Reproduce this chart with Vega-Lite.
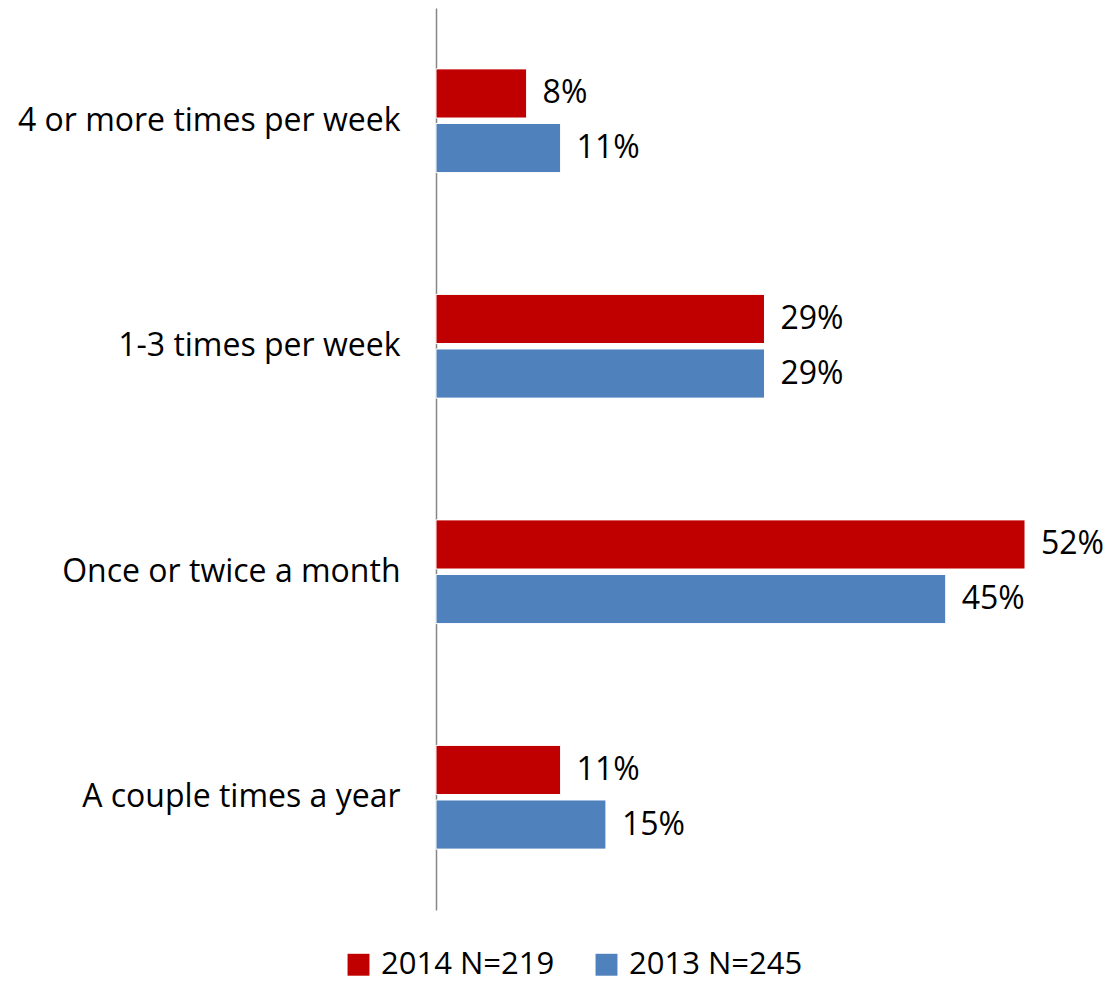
{
  "$schema": "https://vega.github.io/schema/vega-lite/v6.json",
  "autosize": "none",
  "width": 623,
  "height": 902,
  "padding": {"left": 436, "top": 8, "right": 50, "bottom": 76},
  "background": "white",
  "config": {"view": {"stroke": null}, "font": "Open Sans"},
  "data": {"values": [
    {"category": "4 or more times per week", "series": "2014 N=219", "value": 0.08},
    {"category": "4 or more times per week", "series": "2013 N=245", "value": 0.11},
    {"category": "1-3 times per  week", "series": "2014 N=219", "value": 0.29},
    {"category": "1-3 times per  week", "series": "2013 N=245", "value": 0.29},
    {"category": "Once or twice a month", "series": "2014 N=219", "value": 0.52},
    {"category": "Once or twice a month", "series": "2013 N=245", "value": 0.45},
    {"category": "A couple times a year", "series": "2014 N=219", "value": 0.11},
    {"category": "A couple times a year", "series": "2013 N=245", "value": 0.15}
  ]},
  "encoding": {
    "y": {"field": "category", "type": "nominal", "sort": null,
      "scale": {"paddingInner": 0.54, "paddingOuter": 0.27},
      "axis": {"title": null, "ticks": false, "labelFontSize": 32, "labelColor": "#000000", "labelPadding": 36, "domainColor": "#868686", "domainWidth": 1.5, "labelFont": "Open Sans", "labelLimit": 500}},
    "yOffset": {"field": "series", "type": "nominal", "sort": ["2014 N=219", "2013 N=245"], "scale": {"paddingInner": 0.1}},
    "x": {"field": "value", "type": "quantitative", "scale": {"domain": [0, 0.55]}, "axis": null}
  },
  "layer": [
    {"mark": {"type": "bar", "stroke": "white", "strokeWidth": 1},
     "encoding": {"color": {"field": "series", "type": "nominal", "sort": ["2014 N=219", "2013 N=245"],
       "scale": {"domain": ["2014 N=219", "2013 N=245"], "range": ["#C00000", "#4F81BD"]},
       "legend": {"title": null, "orient": "none", "direction": "horizontal", "legendX": -93, "legendY": 941, "symbolType": "square", "symbolSize": 480, "symbolStrokeWidth": 0, "labelFontSize": 31, "labelColor": "#000000", "labelFont": "Open Sans", "labelLimit": 400, "columnPadding": 36, "symbolOffset": 0, "labelOffset": 7, "padding": 0}}}},
    {"mark": {"type": "text", "align": "left", "baseline": "middle", "dx": 16, "fontSize": 32, "font": "Open Sans", "color": "#000000"},
     "encoding": {"text": {"field": "value", "type": "quantitative", "format": ".0%"}}}
  ]
}
